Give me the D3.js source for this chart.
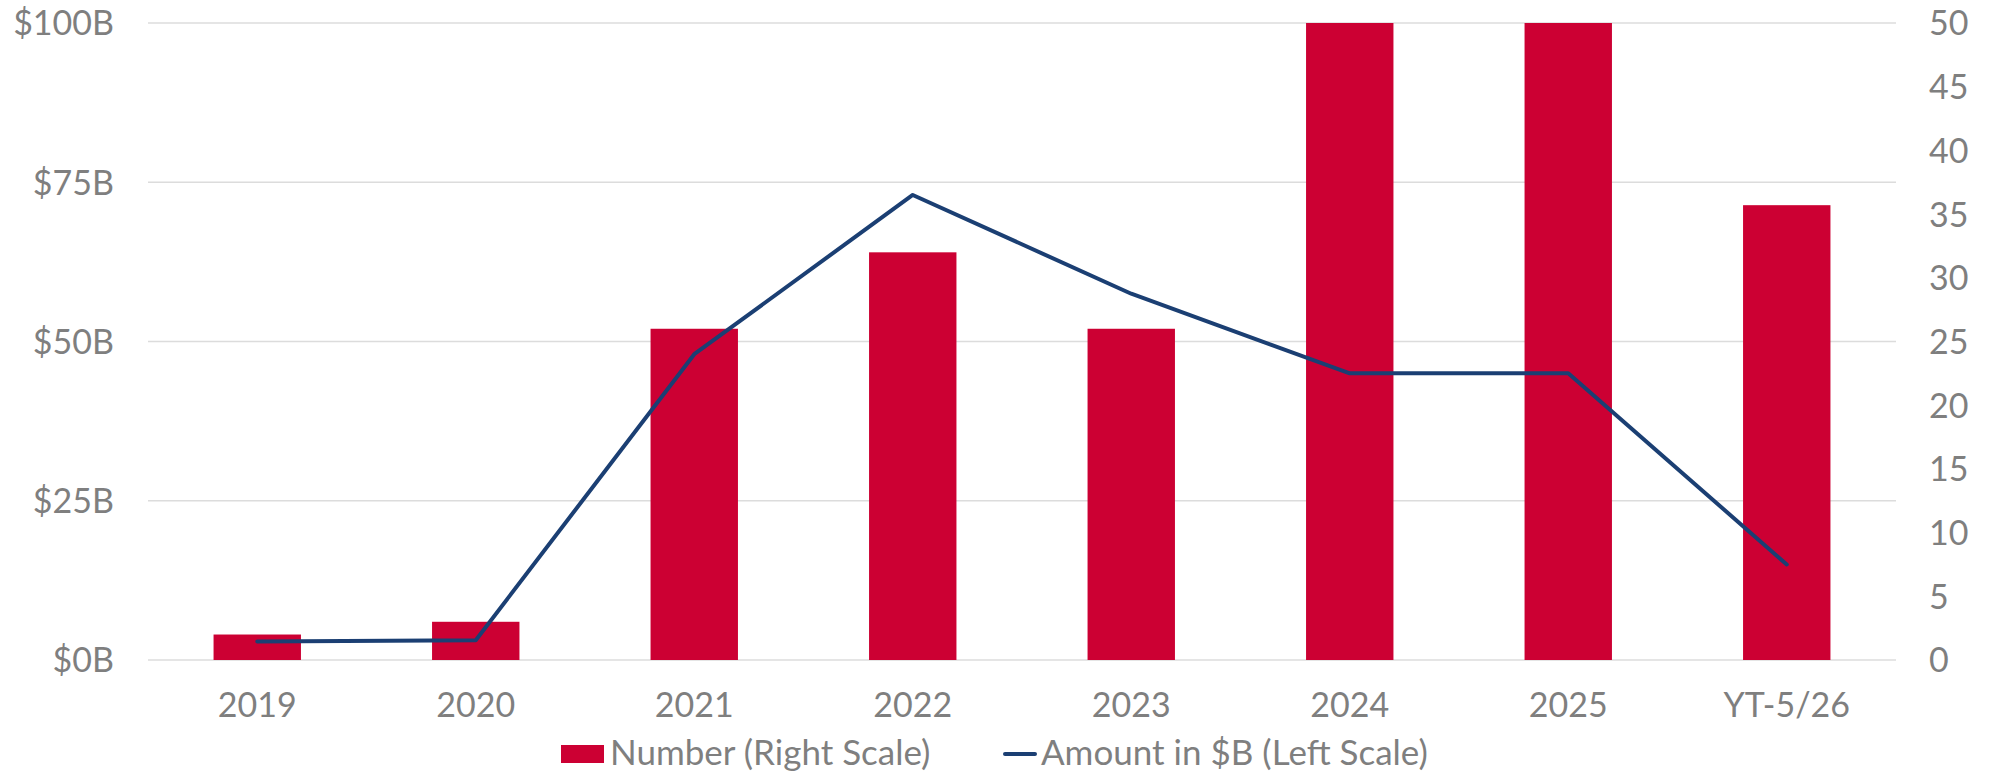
<!DOCTYPE html>
<html>
<head>
<meta charset="utf-8">
<script src="https://cdn.jsdelivr.net/npm/d3@7"></script>
<style>
  html, body { margin: 0; padding: 0; background: #fff; }
  svg { display: block; }
  text { font-family: Lato, "Open Sans", sans-serif; fill: #7f7f7f; }
</style>
</head>
<body>
<svg id="chart" width="1990" height="774"></svg>
<script>
// Categories and series
const categories = ["2019", "2020", "2021", "2022", "2023", "2024", "2025", "YT-5/26"];
const numberCount = [2, 3, 26, 32, 26, 50, 50, 35.7];         // right scale
const amountBillions = [2.9, 3.1, 48, 73, 57.5, 45, 45, 15];  // left scale, $B
const leftTicks = [0, 25, 50, 75, 100];
const rightTicks = [0, 5, 10, 15, 20, 25, 30, 35, 40, 45, 50];
const legendLabels = ["Number (Right Scale)", "Amount in $B (Left Scale)"];

const barColor = "#cc0033";
const lineColor = "#1b3f73";
const gridColor = "#dcdcdc";

const svg = d3.select("#chart");
const plot = { left: 148, right: 1896, top: 23, bottom: 660 };

const x = d3.scaleBand().domain(categories).range([plot.left, plot.right]).padding(0);
const yLeft = d3.scaleLinear().domain([0, 100]).range([plot.bottom, plot.top]);
const yRight = d3.scaleLinear().domain([0, 50]).range([plot.bottom, plot.top]);

// Horizontal gridlines
svg.append("g")
  .selectAll("line")
  .data(leftTicks)
  .join("line")
  .attr("x1", plot.left).attr("x2", plot.right)
  .attr("y1", d => yLeft(d)).attr("y2", d => yLeft(d))
  .attr("stroke", gridColor).attr("stroke-width", 1.5);

// Left axis ($B)
const leftAxis = svg.append("g")
  .attr("transform", `translate(${plot.left - 34},0)`)
  .call(d3.axisLeft(yLeft).tickValues(leftTicks).tickSize(0).tickPadding(0)
    .tickFormat(d => `$${d}B`));
leftAxis.select(".domain").remove();
leftAxis.selectAll("text").style("font-size", "34px").attr("dy", "0.35em")
  .style("fill", "#7f7f7f").style("font-family", "Lato, sans-serif");

// Right axis (count)
const rightAxis = svg.append("g")
  .attr("transform", `translate(${plot.right + 33},0)`)
  .call(d3.axisRight(yRight).tickValues(rightTicks).tickSize(0).tickPadding(0));
rightAxis.select(".domain").remove();
rightAxis.selectAll("text").style("font-size", "34px").attr("dy", "0.35em")
  .style("fill", "#7f7f7f").style("font-family", "Lato, sans-serif");

// Bars
const barW = x.bandwidth() * 0.4;
svg.append("g")
  .selectAll("rect")
  .data(categories.map((c, i) => ({ c, v: numberCount[i] })))
  .join("rect")
  .attr("x", d => x(d.c) + (x.bandwidth() - barW) / 2)
  .attr("width", barW)
  .attr("y", d => yRight(d.v))
  .attr("height", d => yRight(0) - yRight(d.v))
  .attr("fill", barColor);

// Line
const line = d3.line()
  .x(d => x(d.c) + x.bandwidth() / 2)
  .y(d => yLeft(d.v));
svg.append("path")
  .datum(categories.map((c, i) => ({ c, v: amountBillions[i] })))
  .attr("d", line)
  .attr("fill", "none")
  .attr("stroke", lineColor)
  .attr("stroke-width", 4)
  .attr("stroke-linejoin", "round")
  .attr("stroke-linecap", "round");

// Category axis labels
const bottomAxis = svg.append("g")
  .attr("transform", `translate(0,${plot.bottom})`)
  .call(d3.axisBottom(x).tickSize(0).tickPadding(0));
bottomAxis.select(".domain").remove();
bottomAxis.selectAll("text").attr("y", 57).attr("dy", 0)
  .style("font-size", "34px").style("fill", "#7f7f7f").style("font-family", "Lato, sans-serif");

// Legend
const legend = svg.append("g");
legend.append("rect")
  .attr("x", 561).attr("y", 745).attr("width", 43).attr("height", 18)
  .attr("fill", barColor);
legend.append("text")
  .attr("x", 610).attr("y", 765)
  .style("font-size", "35px")
  .text(legendLabels[0]);
legend.append("line")
  .attr("x1", 1005).attr("x2", 1035).attr("y1", 754).attr("y2", 754)
  .attr("stroke", lineColor).attr("stroke-width", 4).attr("stroke-linecap", "round");
legend.append("text")
  .attr("x", 1041).attr("y", 765)
  .style("font-size", "35px")
  .text(legendLabels[1]);
</script>
</body>
</html>
